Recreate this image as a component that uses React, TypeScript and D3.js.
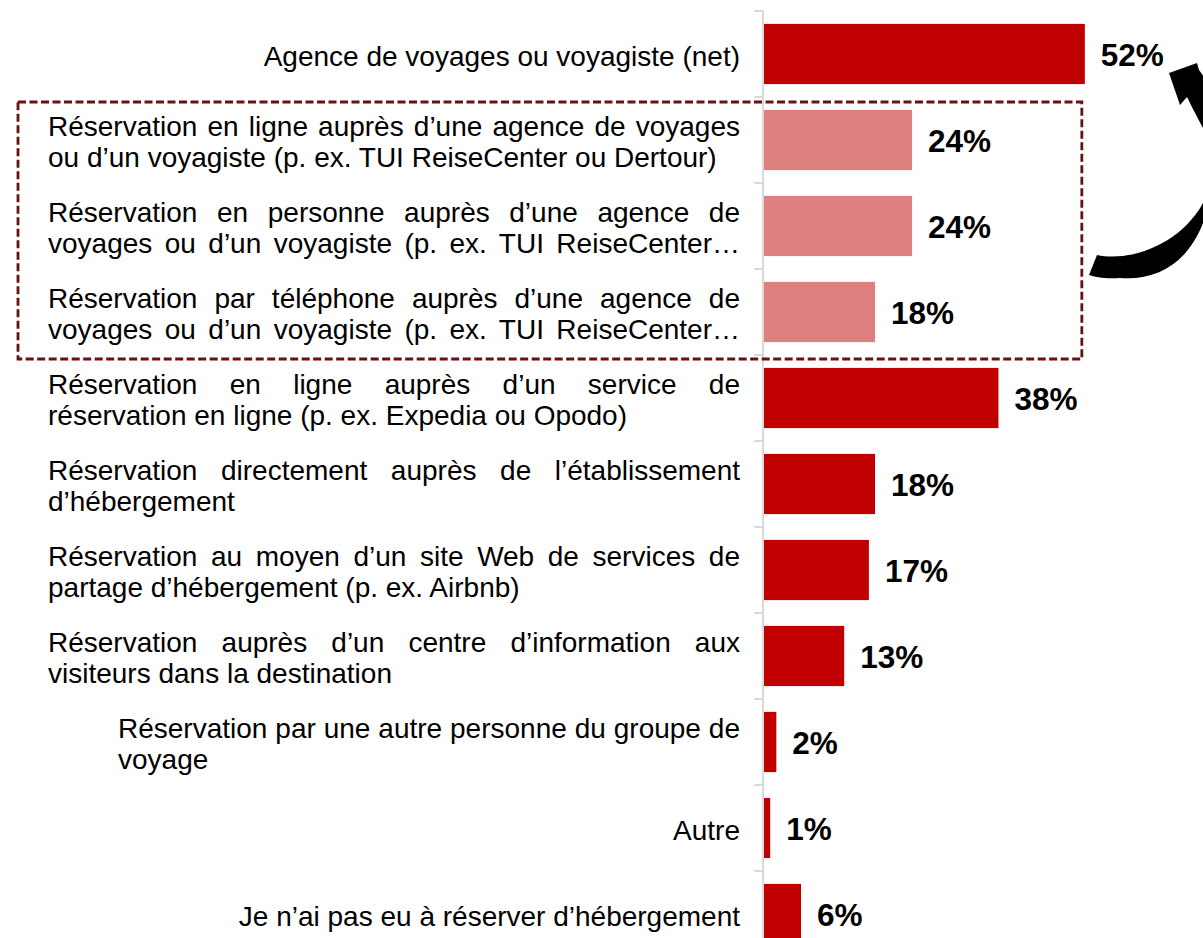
import React, { useEffect, useRef } from "react";
import * as d3 from "d3";

// one entry per row, top to bottom
const categories = [
  "agence_net",
  "agence_en_ligne",
  "agence_personne",
  "agence_telephone",
  "service_en_ligne",
  "etablissement",
  "partage",
  "centre_info",
  "autre_personne",
  "autre",
  "pas_reserve",
];

const labelLines: string[][] = [
  ["Agence de voyages ou voyagiste (net)"],
  ["Réservation en ligne auprès d’une agence de voyages", "ou d’un voyagiste (p. ex. TUI ReiseCenter ou Dertour)"],
  ["Réservation en personne auprès d’une agence de", "voyages ou d’un voyagiste (p. ex. TUI ReiseCenter…"],
  ["Réservation par téléphone auprès d’une agence de", "voyages ou d’un voyagiste (p. ex. TUI ReiseCenter…"],
  ["Réservation en ligne auprès d’un service de", "réservation en ligne (p. ex. Expedia ou Opodo)"],
  ["Réservation directement auprès de l’établissement", "d’hébergement"],
  ["Réservation au moyen d’un site Web de services de", "partage d’hébergement (p. ex. Airbnb)"],
  ["Réservation auprès d’un centre d’information aux", "visiteurs dans la destination"],
  ["Réservation par une autre personne du groupe de", "voyage"],
  ["Autre"],
  ["Je n’ai pas eu à réserver d’hébergement"],
];

const values = [52, 24, 24, 18, 38, 18, 17, 13, 2, 1, 6];

// sub-items of the "agence" net, drawn lighter and boxed
const subItems = ["agence_en_ligne", "agence_personne", "agence_telephone"];

const WIDTH = 1203;
const HEIGHT = 938;
const FONT = "Arial, 'Liberation Sans', sans-serif";

const App = () => {
  const svgRef = useRef<SVGSVGElement>(null);

  useEffect(() => {
    if (!svgRef.current) return;
    const svg = d3.select(svgRef.current);
    svg.selectAll("*").remove();

    const x = d3.scaleLinear().domain([0, 100]).range([764, 1381]);
    const y = d3
      .scaleBand<string>()
      .domain(categories)
      .range([11, 957])
      .paddingInner(0.3)
      .paddingOuter(0.15);
    const step = y.step();
    const axisX = 763;
    const labelRight = 740;

    // axis line + tick marks at band boundaries
    svg.append("line")
      .attr("x1", axisX).attr("x2", axisX)
      .attr("y1", 11).attr("y2", HEIGHT)
      .attr("stroke", "#d9d9d9").attr("stroke-width", 2);
    categories.forEach((c) => {
      const yb = (y(c) as number) - step * 0.15;
      svg.append("line")
        .attr("x1", axisX - 9).attr("x2", axisX)
        .attr("y1", yb).attr("y2", yb)
        .attr("stroke", "#d9d9d9").attr("stroke-width", 2);
    });

    // bars
    svg.append("g")
      .selectAll("rect")
      .data(categories)
      .join("rect")
      .attr("x", x(0))
      .attr("y", (c) => y(c) as number)
      .attr("width", (c, i) => x(values[i]) - x(0))
      .attr("height", y.bandwidth())
      .attr("fill", (c) => (subItems.includes(c) ? "#df8080" : "#c00000"));

    // value labels
    svg.append("g")
      .selectAll("text")
      .data(categories)
      .join("text")
      .attr("x", (c, i) => x(values[i]) + 16)
      .attr("y", (c) => (y(c) as number) + y.bandwidth() / 2 + 12)
      .attr("font-family", FONT)
      .attr("font-size", 31.5)
      .attr("font-weight", "bold")
      .attr("fill", "#000")
      .text((c, i) => `${values[i]}%`);

    // category labels (justified like the original text boxes)
    categories.forEach((c, i) => {
      const lines = labelLines[i];
      const cy = (y(c) as number) + y.bandwidth() / 2;
      const left = c === "autre_personne" ? 118 : 48;
      const boxWidth = labelRight - left;
      lines.forEach((line, li) => {
        const baseline = cy + (li - (lines.length - 1) / 2) * 31 + 11.5;
        const t = svg.append("text")
          .attr("y", baseline)
          .attr("font-family", FONT)
          .attr("font-size", 28)
          .attr("fill", "#000")
          .text(line);
        if (lines.length === 1) {
          t.attr("x", labelRight).attr("text-anchor", "end");
          return;
        }
        t.attr("x", left);
        const justify = li < lines.length - 1 || line.endsWith("…");
        if (justify) {
          const natural = (t.node() as SVGTextElement).getComputedTextLength();
          const gaps = line.split(" ").length - 1;
          if (gaps > 0) t.attr("word-spacing", (boxWidth - natural) / gaps);
        }
      });
    });

    // dashed box around the sub-items
    const top = (y(subItems[0]) as number) - step * 0.15 + 5;
    const bottom = (y(subItems[2]) as number) + y.bandwidth() + step * 0.15 + 4;
    svg.append("rect")
      .attr("x", 18)
      .attr("y", top)
      .attr("width", x(52) - 3 - 18)
      .attr("height", bottom - top)
      .attr("fill", "none")
      .attr("stroke", "#6a1010")
      .attr("stroke-width", 2.8)
      .attr("stroke-dasharray", "8 3.5");

    // curved arrow pointing from the box up to the net value
    svg.append("path")
      .attr(
        "d",
        "M1097,255 C1130,262 1180,245 1203,203 C1215,180 1215,150 1203,128 " +
          "C1196,115 1191,105 1187,97 L1180,105 L1169,73 L1197,63 L1199,70 " +
          "C1230,110 1235,190 1203,223 C1188,262 1158,281 1120,278 " +
          "C1105,279 1095,277 1089,275 Z"
      )
      .attr("fill", "#000");
  }, []);

  return (
    <svg
      ref={svgRef}
      width={WIDTH}
      height={HEIGHT}
      style={{ position: "absolute", left: 0, top: 0, background: "#fff" }}
    />
  );
};

export default App;
